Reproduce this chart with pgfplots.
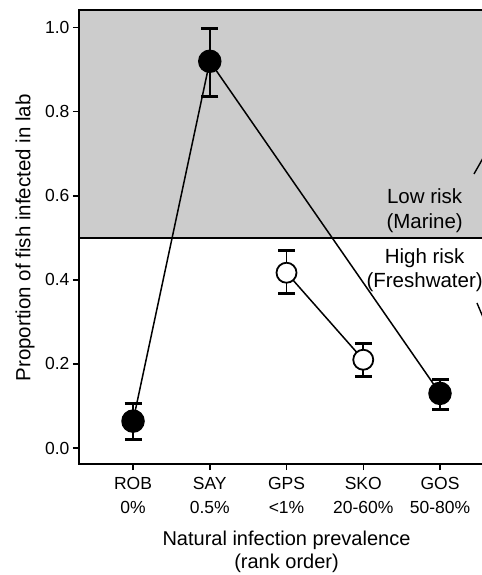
\documentclass[border=0pt]{standalone}
\usepackage{fontspec}
\setmainfont{Liberation Sans}
\usepackage{pgfplots}
\pgfplotsset{compat=1.18}
\begin{document}
\begin{tikzpicture}
% the reference is cut off on the right, so clip the picture there
\path[use as bounding box, clip] (-79bp,-111bp) rectangle (403bp,464bp);
\begin{axis}[
  at={(0,0)}, anchor=south west,
  scale only axis,
  width=453.1bp, height=454bp,
  xmin=-0.704, xmax=5.2,
  ymin=-0.038, ymax=1.042,
  clip=false,
  axis on top,
  axis line style={line width=1.6bp},
  tick style={line width=1.5bp, black},
  major tick length=6bp,
  tick align=outside,
  xtick pos=bottom, ytick pos=left,
  xtick={0,1,2,3,4},
  xticklabels={{ROB\\0\%},{SAY\\0.5\%},{GPS\\<1\%},{SKO\\20-60\%},{GOS\\50-80\%}},
  xticklabel style={align=center, yshift=-4bp, font=\fontsize{17.5bp}{23.5bp}\selectfont},
  ytick={0,0.2,0.4,0.6,0.8,1},
  yticklabel style={/pgf/number format/fixed, /pgf/number format/fixed zerofill,
    /pgf/number format/precision=1, font=\fontsize{17.5bp}{20bp}\selectfont},
  /pgf/number format/assume math mode=true,
  xlabel={Natural infection prevalence\\(rank order)},
  xlabel style={at={([yshift=-63bp]axis description cs:0.458,0)}, anchor=north, align=center,
    font=\fontsize{20bp}{23.5bp}\selectfont},
  ylabel={Proportion of fish infected in lab},
  ylabel style={at={([xshift=-54bp]axis description cs:0,0.498)}, anchor=center,
    font=\fontsize{20.5bp}{24bp}\selectfont},
]
% shaded low-risk zone and threshold line
\fill[gray!40] (axis cs:-0.704,0.5) rectangle (axis cs:5.2,1.042);
\draw[line width=1.6bp] (axis cs:-0.704,0.5) -- (axis cs:5.2,0.5);

% error bars first, so that the circles cover them
\addplot[forget plot, only marks, mark=none, error bars/.cd, y dir=both, y explicit,
  error bar style={black, line width=1.8bp},
  error mark options={black, rotate=90, mark size=8.5bp, line width=3bp}]
  coordinates {
    (0,0.064) += (0,0.043) -= (0,0.043)
    (1,0.920) += (0,0.077) -= (0,0.084)
    (2,0.417) += (0,0.053) -= (0,0.050)
    (3,0.210) += (0,0.039) -= (0,0.040)
    (4,0.130) += (0,0.034) -= (0,0.038)
  };

% marine-type fish (filled)
\addplot[black, line width=1.5bp, mark=*, mark size=11bp] coordinates {
  (0,0.064) (1,0.920) (4,0.130)
};
% freshwater-type fish (open)
\addplot[black, line width=1.5bp, mark=*, mark size=10bp,
  mark options={fill=white, line width=1.8bp}] coordinates {
  (2,0.417) (3,0.210)
};

% arrows coming in from the cut-off panel
\draw[line width=1.4bp] (axis cs:4.443,0.652) -- (axis cs:4.717,0.740);
\draw[line width=1.4bp] (axis cs:4.482,0.345) -- (axis cs:4.717,0.243);

\node[align=center, font=\fontsize{20.5bp}{24.5bp}\selectfont] at (axis cs:3.80,0.565)
  {Low risk\\(Marine)};
\node[align=center, font=\fontsize{20.5bp}{24.5bp}\selectfont] at (axis cs:3.80,0.423)
  {High risk\\(Freshwater)};
\end{axis}
\end{tikzpicture}
\end{document}
